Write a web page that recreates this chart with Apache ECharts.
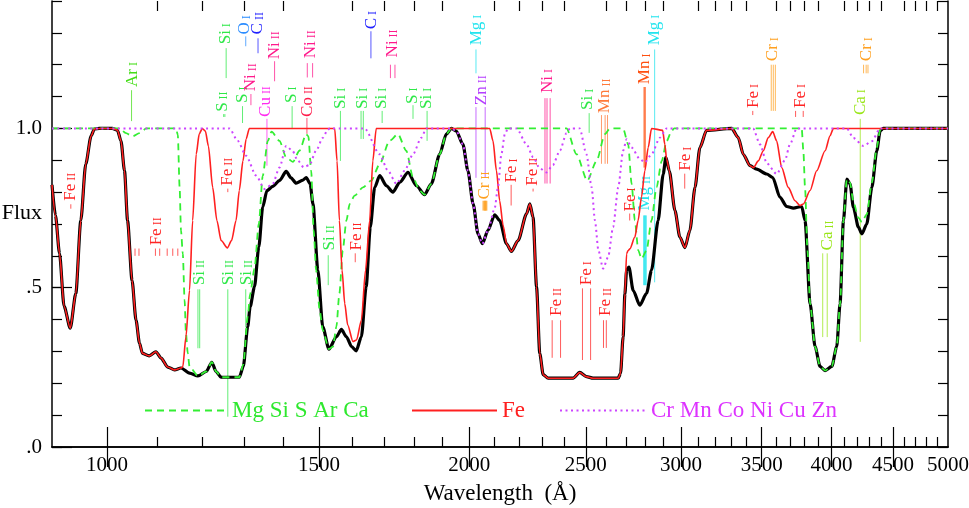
<!DOCTYPE html>
<html>
<head>
<meta charset="utf-8">
<script src="https://cdn.jsdelivr.net/npm/echarts@6/dist/echarts.min.js"></script>
<style>
html, body { margin: 0; padding: 0; background: #fff; }
#chart { width: 969px; height: 508px; }
</style>
</head>
<body>
<div id="chart"></div>
<script>
// wavelengths in Angstrom, flux normalised to the continuum
var totalWave = [900,906,913,921,932,942,951,960,970,976,985,1010,1020,1027,1034,1040,1049,1057,1064,1070,
    1084,1098,1109,1123,1138,1152,1171,1190,1209,1222,1232,1244,1288,1298,1309,1315,1326,1337,1347,1358,
    1373,1391,1409,1422,1436,1455,1464,1475,1483,1497,1511,1529,1551,1566,1581,1597,1611,1627,1642,1655,
    1669,1685,1707,1728,1751,1779,1808,1836,1860,1890,1914,1933,1951,1976,1995,2015,2034,2051,2073,2100,
    2120,2148,2168,2196,2232,2246,2260,2275,2289,2304,2326,2440,2471,2503,2535,2660,2672,2685,2694,2703,
    2715,2737,2772,2808,2835,2871,2899,2914,2933,2965,2993,3022,3051,3081,3110,3150,3305,3347,3379,3423,
    3467,3534,3575,3625,3672,3719,3779,3803,3840,3877,3914,3952,4003,4041,4067,4093,4120,4145,4172,4212,
    4240,4280,4322,4363,4391,4416,5000];
var totalFlux = [.823,.727,.608,.442,.373,.482,.711,.888,.977,.998,1,1,.995,.961,.867,.711,.523,.398,.326,.294,
    .286,.299,.279,.251,.242,.248,.232,.223,.237,.266,.237,.219,.219,.253,.378,.44,.503,.628,.753,.805,
    .818,.836,.865,.845,.828,.838,.846,.826,.763,.555,.378,.307,.346,.369,.346,.315,.302,.346,.503,.69,
    .815,.852,.82,.80,.831,.862,.82,.792,.826,.919,.982,1,.992,.95,.867,.763,.669,.638,.68,.729,
    .711,.638,.614,.648,.732,.763,.721,.503,.294,.227,.216,.216,.234,.221,.216,.216,.232,.346,.48,.555,
    .565,.492,.445,.482,.555,.711,.857,.909,.867,.742,.659,.626,.68,.815,.94,.994,1,.971,.919,.883,
    .872,.857,.846,.784,.755,.75,.755,.711,.45,.315,.253,.24,.253,.315,.45,.711,.841,.826,.752,.69,
    .669,.70,.815,.93,.992,1,1];

var mgWave = [900,1024,1037,1050,1064,1078,1141,1145,1149,1152,1156,1160,1163,1167,1171,1190,1209,1222,1232,1244,
    1288,1298,1309,1315,1326,1337,1347,1360,1370,1391,1409,1427,1445,1464,1470,1478,1485,1492,1502,1511,
    1529,1541,1551,1560,1570,1581,1591,1606,1632,1658,1685,1717,1745,1773,1796,1819,1836,1860,1890,1914,
    1933,2409,2456,2507,2552,2593,2618,2685,2711,2729,2746,2764,2781,2808,2835,2862,2891,2918,2946,2960,
    3779,3791,3803,3821,3840,3877,3914,3952,4003,4041,4067,4093,4120,4145,4172,4212,4240,4280,4322,4363,
    4391,4416,5000];
var mgFlux = [1,1,.985,.975,.985,1,1,.98,.815,.68,.607,.461,.357,.295,.252,.223,.237,.266,.237,.219,
    .219,.26,.41,.48,.56,.70,.85,.96,.99,.961,.909,.895,.93,.982,.975,.867,.68,.555,.43,.367,
    .307,.315,.378,.482,.617,.711,.763,.789,.815,.836,.888,.961,.982,.93,.846,.805,.792,.826,.919,.982,
    1,1,.919,.836,.898,.982,1,1,.95,.826,.711,.617,.591,.617,.711,.815,.898,.96,.992,1,
    1,.93,.815,.617,.45,.315,.253,.24,.253,.315,.45,.711,.841,.83,.77,.72,.706,.73,.83,.94,
    .995,1,1];

var feWave = [900,906,913,921,932,942,951,960,970,976,985,1010,1020,1027,1034,1040,1049,1057,1064,1070,
    1084,1098,1109,1123,1138,1152,1156,1163,1171,1178,1186,1193,1200,1207,1214,1224,1234,1244,1259,1269,
    1280,1288,1297,1305,1313,1546,1553,1560,1568,1576,1585,1601,1612,1627,1640,1653,1663,1674,2080,2093,
    2107,2120,2134,2148,2168,2196,2232,2246,2260,2275,2289,2304,2326,2440,2471,2503,2535,2660,2672,2685,
    2694,2703,2711,2720,2746,2763,2781,2799,2817,2835,2896,2908,2918,2933,2965,2993,3022,3051,3081,3110,
    3150,3305,3347,3379,3423,3445,3478,3511,3545,3575,3602,3637,3683,3731,3767,3791,3840,3889,3952,3990,
    4015,5000];
var feFlux = [.823,.727,.608,.442,.373,.482,.711,.888,.977,.998,1,1,.995,.961,.867,.711,.523,.398,.326,.294,
    .286,.299,.279,.251,.242,.248,.252,.346,.492,.711,.919,.983,1,.992,.945,.815,.711,.648,.625,.648,
    .711,.805,.898,.967,1,1,.898,.711,.555,.45,.383,.331,.336,.398,.555,.711,.898,1,1,.961,
    .867,.773,.695,.638,.614,.648,.732,.763,.721,.503,.294,.227,.216,.216,.234,.221,.216,.216,.232,.346,
    .482,.607,.617,.622,.659,.711,.784,.867,.94,1,.994,.95,.904,.867,.742,.659,.626,.68,.815,.94,
    .994,1,.971,.919,.883,.877,.898,.93,.971,.99,.961,.877,.815,.773,.758,.763,.805,.867,.93,.977,
    1,1];

var crWave = [900,1264,1284,1305,1330,1352,1373,1391,1409,1426,1440,1457,1473,1492,1511,1525,1531,1637,1685,1712,
    1740,1767,1796,1825,1842,1933,1951,1976,1995,2015,2034,2051,2073,2100,2113,2127,2141,2154,2190,2232,
    2260,2289,2319,2347,2379,2409,2425,2471,2503,2528,2544,2561,2584,2609,2634,2660,2685,2703,2729,2772,
    2799,2835,2881,2918,3443,3489,3536,3602,3660,3695,3743,4120,4172,4253,4322,4391,5000];
var crFlux = [1,1,.961,.914,.852,.81,.826,.877,.945,.93,.90,.878,.885,.93,.97,.995,1,1,.919,.867,
    .826,.867,.919,.971,1,1,.992,.95,.867,.763,.669,.638,.68,.75,.815,.919,.982,1,1,.95,
    .91,.875,.862,.885,.93,.985,1,1,.919,.815,.711,.617,.56,.596,.69,.815,.93,.966,.94,.904,
    .893,.919,.971,1,1,.95,.89,.857,.9,.95,1,1,.97,.945,.96,1,1];

var seriesNames = ['Mg Si S Ar Ca', 'Fe', 'Cr Mn Co Ni Cu Zn'];

var majorTicks = [1000, 1500, 2000, 2500, 3000, 3500, 4000, 4500];
var tickLabels = [1000, 1500, 2000, 2500, 3000, 3500, 4000, 4500, 5000];
var minorTicks = [1100, 1200, 1300, 1400, 1600, 1700, 1800, 1900, 2100, 2200, 2300, 2400, 2600, 2700, 2800, 2900,
    3100, 3200, 3300, 3400, 3600, 3700, 3800, 3900, 4100, 4200, 4300, 4400, 4600, 4700, 4800, 4900];
var fluxLabels = [0, 0.5, 1];

// line identifications: label, wavelength of the label, wavelengths of the marks
var lineIds = [
    ['Fe II', 933, [933]], ['Fe II', 1099, [1055, 1063, 1097, 1106, 1122, 1134, 1145]],
    ['Ar I', 1050, [1048]], ['Si II', 1193, [1190, 1194]], ['Si II', 1262, [1260]],
    ['Si II', 1307, [1304]], ['Si I', 1255, [1256]], ['S II', 1248, [1250, 1253]],
    ['S I', 1295, [1296]], ['Ni II', 1317, [1317]], ['O I', 1302, [1304]],
    ['C II', 1335, [1335]], ['Cu II', 1355, [1358]], ['Ni II', 1378, [1378]],
    ['S I', 1424, [1425]], ['Co II', 1468, [1466]], ['Ni II', 1477, [1467, 1482]],
    ['Si I', 1564, [1563]], ['Si I', 1630, [1626, 1633]], ['C I', 1659, [1657]],
    ['Si I', 1691, [1693]], ['Ni II', 1727, [1720, 1735]], ['S I', 1795, [1796]],
    ['Si I', 1844, [1845]], ['Mg I', 2029, [2026]], ['Zn II', 2048, [2026, 2062]],
    ['Cr II', 2060, [2056, 2062, 2066]], ['Fe I', 2170, [2167]], ['Fe II', 2258, [2260]],
    ['Ni I', 2324, [2312, 2321, 2335]], ['Fe II', 2365, [2344, 2382]], ['Fe I', 2504, [2484, 2523]],
    ['Fe II', 2598, [2586, 2600]], ['Si I', 2510, [2516]], ['Mn II', 2593, [2576, 2594, 2606]],
    ['Mn I', 2799, [2798]], ['Mg I', 2853, [2852]], ['Mg II', 2799, [2796, 2803]],
    ['Fe I', 2722, [2719]], ['Fe I', 3028, [3021]], ['Fe I', 3443, [3441]],
    ['Cr I', 3577, [3565, 3579, 3593]], ['Fe I', 3767, [3735, 3790]], ['Ca I', 4226, [4227]],
    ['Cr I', 4282, [4254, 4275, 4290]], ['Ca II', 3974, [3934, 3968]], ['Si II', 1531, [1527]],
    ['Fe II', 1612, [1608]], ['Fe II', 1259, [1260]]
];
// where each label sits: [text base, mark top, mark bottom] in flux units
var lineIdLevels = [
    [.773, .762, .748], [.633, .623, .60], [1.13, 1.12, 1.023], [.508, .495, .31], [.508, .495, .095],
    [.508, .495, .376], [1.264, 1.252, 1.158], [1.052, 1.045, 1.036], [1.08, 1.07, 1.017], [1.117, 1.108, 1.073],
    [1.295, 1.289, 1.258], [1.295, 1.283, 1.236], [1.036, 1.03, .883], [1.217, 1.211, 1.148], [1.08, 1.07, .998],
    [1.036, 1.033, .983], [1.22, 1.205, 1.16], [1.061, 1.055, .898], [1.061, 1.055, .967], [1.311, 1.305, 1.22],
    [1.061, 1.055, 1.017], [1.223, 1.2, 1.158], [1.077, 1.073, 1.03], [1.061, 1.055, .961], [1.261, 1.248, 1.173],
    [1.073, 1.067, .845], [.777, .773, .742], [.83, .823, .758], [.82, .811, .802], [1.111, 1.095, .827],
    [.411, .398, .28], [.508, .498, .273], [.411, .398, .311], [1.058, 1.048, .986], [1.048, 1.042, .889],
    [1.139, 1.13, .877], [1.261, 1.248, .517], [.742, .727, .508], [.739, .733, .711], [.867, .858, .811],
    [1.064, 1.055, 1.042], [1.211, 1.2, 1.055], [1.064, 1.055, 1.036], [1.042, 1.03, .33], [1.211, 1.2, 1.173],
    [.617, .608, .345], [.617, .602, .508], [.617, .608, .58], [.82, .811, .80]
];

var FONT = "'Liberation Serif', 'Times New Roman', serif";
var idColors = {
    'Fe': '#ff2424', 'Si': '#2ee848', 'S': '#2ee848', 'Ar': '#44dd18', 'Ni': '#ff1a8c',
    'O': '#2a8cff', 'C': '#2020ff', 'Cu': '#ff2af0', 'Co': '#ff1a4a', 'Mg': '#22e4ee',
    'Zn': '#b43cff', 'Cr': '#ffa020', 'Mn': '#ff7a3a', 'Mn I': '#ff5010', 'Ca': '#99e618'
};
var thickIds = ['Mn I', 'Mg II', 'Cr II'];

function logPairs(w, f) {
    return w.map(function (v, i) { return [Math.log(v), f[i]]; });
}

var xMin = Math.log(900), xMax = Math.log(5000);

function xAxisPart(pos, vals, len, withLabels) {
    var ax = {
        type: 'value', position: pos, min: xMin, max: xMax,
        axisLine: { show: withLabels !== null, lineStyle: { color: '#000', width: 1.5 } },
        axisTick: { inside: true, length: len, customValues: vals.map(function (v) { return Math.log(v); }),
            lineStyle: { color: '#000', width: 1.2 } },
        axisLabel: { show: false },
        splitLine: { show: false }
    };
    if (withLabels) {
        ax.axisLabel = {
            show: true, customValues: tickLabels.map(function (v) { return Math.log(v); }),
            formatter: function (v) { return String(Math.round(Math.exp(v))); },
            color: '#000', fontSize: 21, fontFamily: FONT, margin: 8
        };
        ax.name = 'Wavelength  (\u00c5)';
        ax.nameLocation = 'middle';
        ax.nameGap = 35;
        ax.nameMoveOverlap = false;
        ax.nameTextStyle = { color: '#000', fontSize: 23, fontFamily: FONT };
    }
    return ax;
}

var myChart = echarts.init(document.getElementById('chart'));

var legendBase = { itemHeight: 14, selectedMode: false, top: 394, itemStyle: { opacity: 0 } };

var option = {
    backgroundColor: '#fff',
    animation: false,
    grid: { left: 52, right: 21, top: 1, bottom: 61, outerBoundsMode: 'none', containLabel: false },
    legend: [
        Object.assign({ left: 139, itemWidth: 82, data: [seriesNames[0]],
            textStyle: { color: '#2ee82e', fontSize: 23, fontFamily: FONT } }, legendBase),
        Object.assign({ left: 406, itemWidth: 85, data: [seriesNames[1]],
            textStyle: { color: '#ff2020', fontSize: 23, fontFamily: FONT } }, legendBase),
        Object.assign({ left: 554, itemWidth: 86, data: [seriesNames[2]],
            textStyle: { color: '#dd33ff', fontSize: 23, fontFamily: FONT } }, legendBase)
    ],
    xAxis: [
        xAxisPart('bottom', majorTicks, 20, true),
        xAxisPart('bottom', minorTicks, 10, null),
        xAxisPart('top', majorTicks, 20, false),
        xAxisPart('top', minorTicks, 10, null)
    ],
    yAxis: [{
        type: 'value', position: 'left', min: 0, max: 1.4, interval: 0.1,
        axisLine: { show: true, lineStyle: { color: '#000', width: 1.5 } },
        axisTick: { inside: true, length: 10, lineStyle: { color: '#000', width: 1.2 } },
        axisLabel: {
            customValues: fluxLabels, color: '#000', fontSize: 21, fontFamily: FONT, margin: 10,
            formatter: function (v) {
                if (Math.abs(v - 1) < 1e-6) return '1.0';
                if (Math.abs(v - 0.5) < 1e-6) return '.5';
                if (Math.abs(v) < 1e-6) return '.0';
                return '';
            }
        },
        splitLine: { show: false },
        name: 'Flux', nameLocation: 'middle', nameRotate: 0, nameGap: 10, nameMoveOverlap: false,
        nameTextStyle: { color: '#000', fontSize: 22, fontFamily: FONT, align: 'right', verticalAlign: 'bottom' }
    }, {
        type: 'value', position: 'left', min: 0, max: 1.4,
        axisLine: { show: false },
        axisTick: { inside: true, length: 20, customValues: fluxLabels, lineStyle: { color: '#000', width: 1.2 } },
        axisLabel: { show: false },
        splitLine: { show: false }
    }, {
        type: 'value', position: 'right', min: 0, max: 1.4, interval: 0.1,
        axisLine: { show: true, lineStyle: { color: '#000', width: 1.5 } },
        axisTick: { inside: true, length: 10, lineStyle: { color: '#000', width: 1.2 } },
        axisLabel: { show: false },
        splitLine: { show: false }
    }],
    series: [{
        type: 'custom',
        silent: true,
        z: 1,
        data: lineIds.map(function (r, i) { return [Math.log(r[1]), lineIdLevels[i][0]]; }),
        renderItem: function (params, api) {
            var row = lineIds[params.dataIndex];
            var lev = lineIdLevels[params.dataIndex];
            var parts = row[0].split(' ');
            var col = idColors[row[0]] || idColors[parts[0]];
            var lw = thickIds.indexOf(row[0]) >= 0 ? 2.4 : 1;
            var kids = [];
            row[2].forEach(function (w) {
                var a = api.coord([Math.log(w), lev[1]]);
                var b = api.coord([Math.log(w), lev[2]]);
                kids.push({
                    type: 'line',
                    shape: { x1: a[0], y1: a[1], x2: b[0], y2: b[1] },
                    style: { stroke: col, lineWidth: lw, opacity: 0.75 }
                });
            });
            var p = api.coord([Math.log(row[1]), lev[0]]);
            kids.push({
                type: 'text', x: p[0], y: p[1], rotation: Math.PI / 2,
                style: {
                    text: '{e|' + parts[0] + '}{i| ' + parts[1] + '}',
                    align: 'left', verticalAlign: 'middle', fill: col,
                    rich: {
                        e: { fontSize: 17, fontFamily: FONT, fill: col, verticalAlign: 'bottom' },
                        i: { fontSize: 12, fontFamily: FONT, fill: col, verticalAlign: 'bottom', padding: [0, 0, 1, 0] }
                    }
                }
            });
            return { type: 'group', children: kids };
        }
    }, {
        name: 'total', type: 'line', z: 2,
        data: logPairs(totalWave, totalFlux),
        symbol: 'none', smooth: 0.25, smoothMonotone: 'x',
        lineStyle: { color: '#000', width: 3.2 }
    }, {
        name: seriesNames[0], type: 'line', z: 3,
        data: logPairs(mgWave, mgFlux),
        symbol: 'none', smooth: 0.25, smoothMonotone: 'x',
        itemStyle: { color: '#33ee33' },
        lineStyle: { color: '#33ee33', width: 1.8, type: [7, 5] }
    }, {
        name: seriesNames[1], type: 'line', z: 4,
        data: logPairs(feWave, feFlux),
        symbol: 'none', smooth: 0.25, smoothMonotone: 'x',
        itemStyle: { color: '#ff2020' },
        lineStyle: { color: '#ff2020', width: 1.6 }
    }, {
        name: seriesNames[2], type: 'line', z: 5,
        data: logPairs(crWave, crFlux),
        symbol: 'none', smooth: 0.25, smoothMonotone: 'x',
        itemStyle: { color: '#cc44ff' },
        lineStyle: { color: '#cc44ff', width: 2, type: [2, 3.5] }
    }]
};

myChart.setOption(option);
</script>
</body>
</html>
